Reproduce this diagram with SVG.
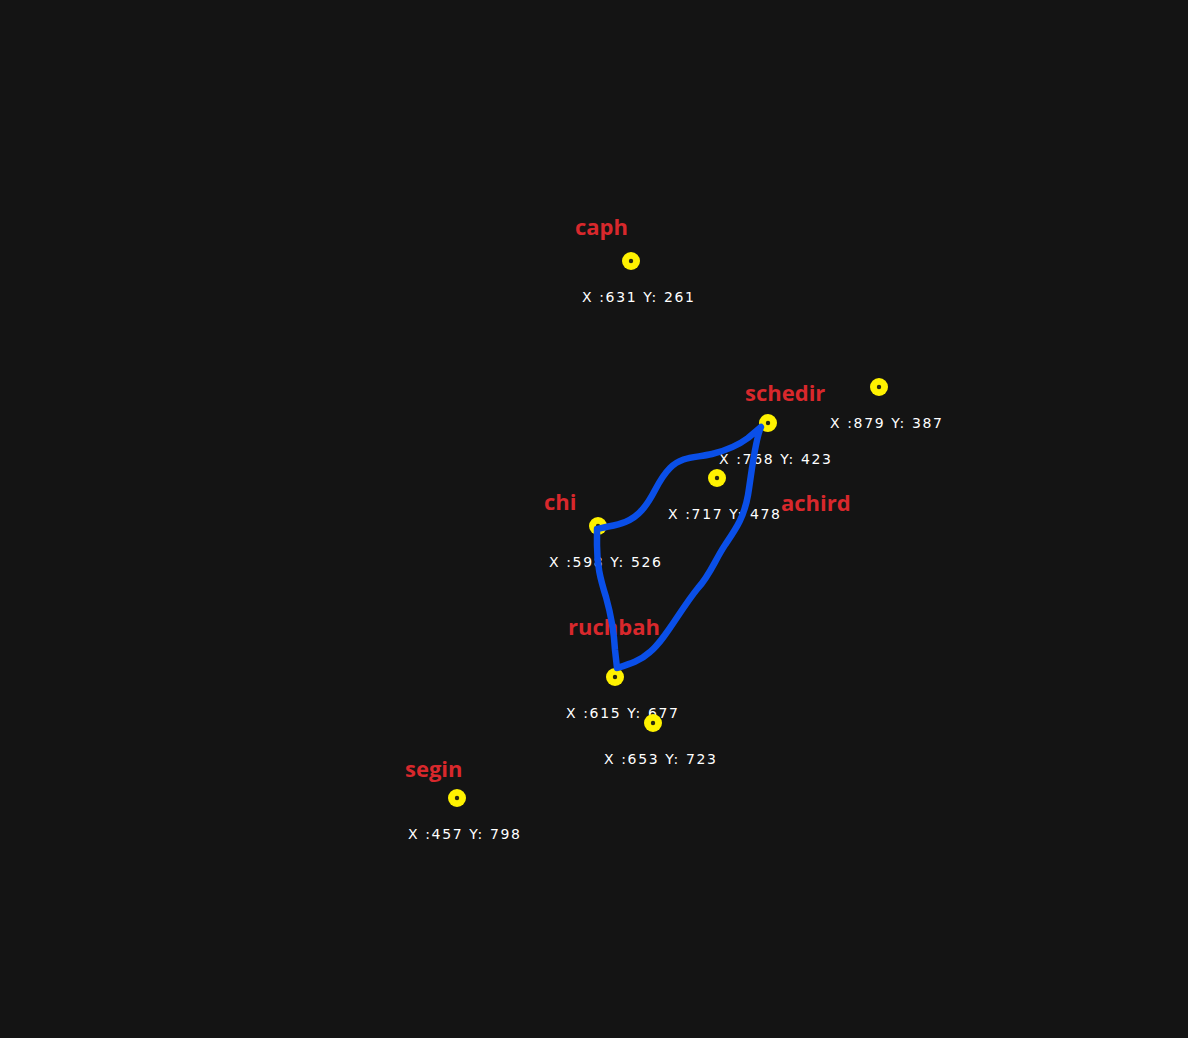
<svg xmlns="http://www.w3.org/2000/svg" width="1188" height="1038" viewBox="0 0 1188 1038">
<style>
.name{font-family:"Open Sans","Liberation Sans",sans-serif;font-weight:700;font-size:22px;fill:#d8282c}
.coord{font-family:"DejaVu Sans","Liberation Sans",sans-serif;font-size:14px;fill:#ffffff}
.star{fill:#fff200}
.core{fill:#2a2a10}
.line{fill:none;stroke:#0a4fe8;stroke-width:6.5;stroke-linecap:round;stroke-linejoin:round}
</style>
<rect width="1188" height="1038" fill="#141414"/>
<g id="caph">
<circle class="star" cx="631" cy="261" r="9"/><circle class="core" cx="631" cy="261" r="2.2"/>
<text class="name" x="575" y="235">caph</text>
<text class="coord" x="582" y="302" textLength="112">X :631 Y: 261</text>
</g>
<g id="star879">
<circle class="star" cx="879" cy="387" r="9"/><circle class="core" cx="879" cy="387" r="2.2"/>
<text class="coord" x="830" y="428" textLength="112">X :879 Y: 387</text>
</g>
<g id="schedir">
<circle class="star" cx="768" cy="423" r="9"/><circle class="core" cx="768" cy="423" r="2.2"/>
<text class="name" x="745" y="401">schedir</text>
<text class="coord" x="719" y="464" textLength="112">X :768 Y: 423</text>
</g>
<g id="achird">
<circle class="star" cx="717" cy="478" r="9"/><circle class="core" cx="717" cy="478" r="2.2"/>
<text class="name" x="781" y="511">achird</text>
<text class="coord" x="668" y="519" textLength="112">X :717 Y: 478</text>
</g>
<g id="chi">
<circle class="star" cx="598" cy="526" r="9"/><circle class="core" cx="598" cy="526" r="2.2"/>
<text class="name" x="544" y="510">chi</text>
<text class="coord" x="549" y="567" textLength="112">X :598 Y: 526</text>
</g>
<g id="ruchbah">
<circle class="star" cx="615" cy="677" r="9"/><circle class="core" cx="615" cy="677" r="2.2"/>
<text class="name" x="568" y="635">ruchbah</text>
<text class="coord" x="566" y="718" textLength="112">X :615 Y: 677</text>
</g>
<g id="star653">
<circle class="star" cx="653" cy="723" r="9"/><circle class="core" cx="653" cy="723" r="2.2"/>
<text class="coord" x="604" y="764" textLength="112">X :653 Y: 723</text>
</g>
<g id="segin">
<circle class="star" cx="457" cy="798" r="9"/><circle class="core" cx="457" cy="798" r="2.2"/>
<text class="name" x="405" y="777">segin</text>
<text class="coord" x="408" y="839" textLength="112">X :457 Y: 798</text>
</g>
<g id="connectors">
<path class="line" d="M598,529 C610,525 628,526 642,510 C655,496 656,482 670,468 C682,456 695,458 712,454 C728,450 740,444 748,438 L761,427 C755,440 752,470 748,495 C744,518 735,530 725,545 C715,560 710,575 698,588 C680,610 665,640 650,652 C640,661 630,664 617,668 L615,650 C614,630 611,615 606,597 C600,578 597,565 597,545 L597,529"/>
</g>
</svg>
